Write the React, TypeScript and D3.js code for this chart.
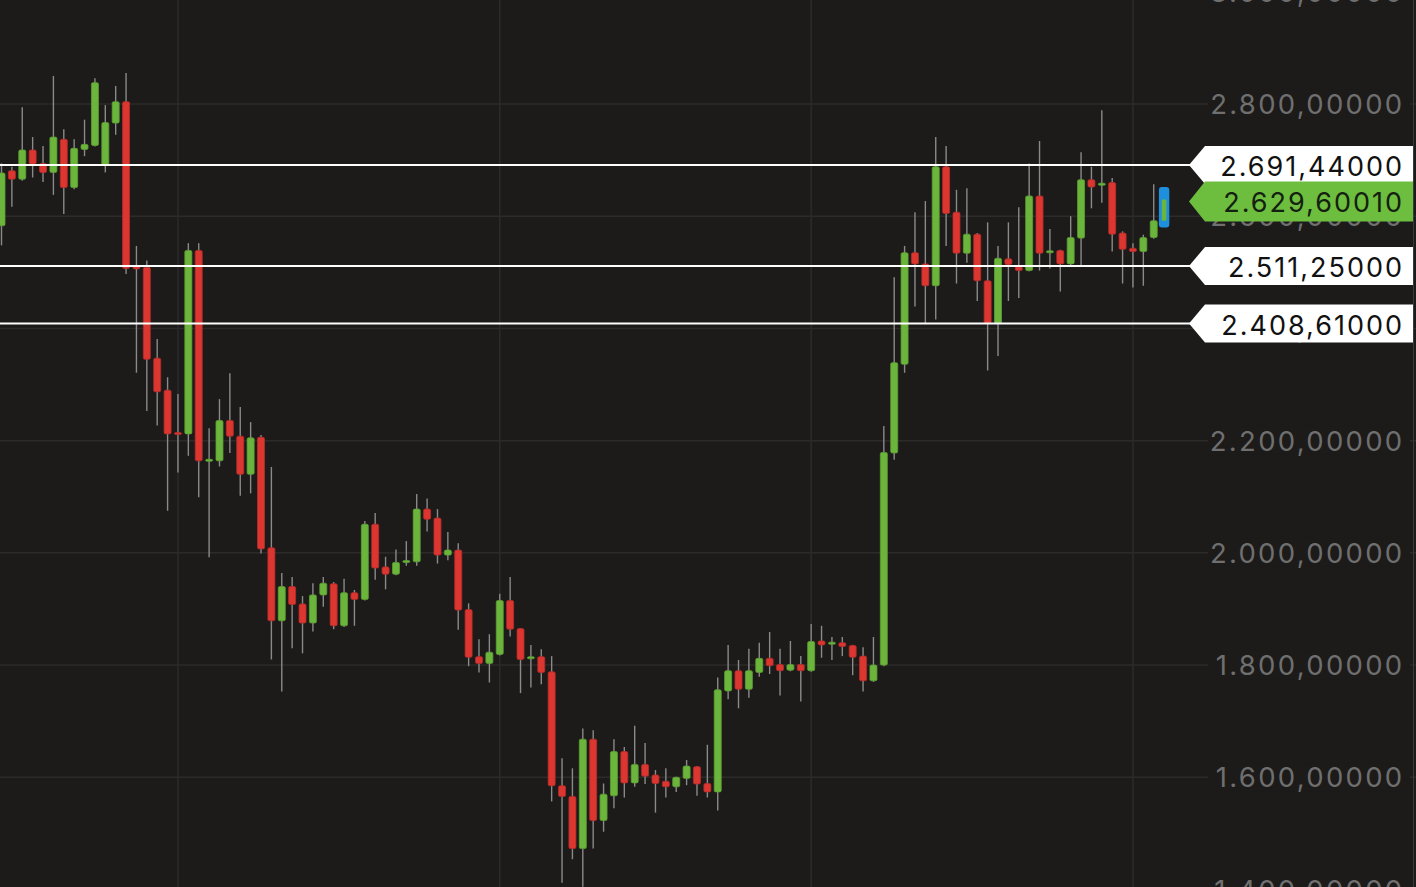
import React, { useEffect } from "react";
import * as d3 from "d3";

const WIDTH = 1416;
const HEIGHT = 887;

// daily candles
const opens = [
  2583, 2681, 2666, 2718, 2694, 2678, 2737, 2651, 2719, 2726, 2691, 2766, 2804, 2510, 2509, 2347, 2290, 2214, 2212, 2539,
  2164, 2164, 2236, 2208, 2140, 2206, 2009, 1879, 1940, 1909, 1875, 1925, 1945, 1870, 1929, 1917, 2051, 1975, 1962, 1983,
  1984, 2078, 2062, 1996, 2005, 1899, 1815, 1803, 1819, 1915, 1865, 1812, 1815, 1788, 1585, 1566, 1473, 1668, 1523, 1567,
  1646, 1590, 1623, 1604, 1593, 1583, 1598, 1619, 1589, 1574, 1754, 1790, 1757, 1787, 1812, 1801, 1791, 1801, 1790, 1843,
  1838, 1840, 1835, 1816, 1772, 1800, 2178, 2336, 2535, 2515, 2476, 2688, 2607, 2534, 2568, 2485, 2409, 2524, 2510, 2503,
  2636, 2535, 2539, 2515, 2561, 2665, 2656, 2660, 2570, 2543, 2537, 2562, 2592,
];
const highs = [
  2694, 2688, 2794, 2741, 2725, 2850, 2755, 2737, 2772, 2846, 2798, 2832, 2855, 2547, 2521, 2381, 2313, 2283, 2552, 2552,
  2222, 2274, 2320, 2260, 2233, 2210, 2153, 1964, 1957, 1923, 1946, 1957, 1948, 1954, 1934, 2057, 2071, 1993, 2006, 2021,
  2105, 2097, 2078, 2037, 2017, 1910, 1846, 1855, 1927, 1957, 1866, 1836, 1828, 1816, 1634, 1616, 1687, 1684, 1589, 1668,
  1654, 1692, 1661, 1613, 1616, 1601, 1631, 1620, 1658, 1778, 1836, 1809, 1829, 1840, 1859, 1829, 1843, 1816, 1873, 1870,
  1850, 1850, 1836, 1832, 1850, 2226, 2491, 2547, 2607, 2627, 2741, 2725, 2647, 2650, 2570, 2589, 2547, 2589, 2616, 2694,
  2734, 2577, 2540, 2600, 2714, 2688, 2789, 2668, 2573, 2552, 2567, 2657, 2652,
];
const lows = [
  2548, 2617, 2663, 2669, 2661, 2638, 2604, 2648, 2707, 2724, 2678, 2745, 2497, 2321, 2253, 2227, 2075, 2143, 2173, 2099,
  1992, 2154, 2178, 2102, 2106, 1999, 1810, 1753, 1830, 1821, 1860, 1904, 1864, 1868, 1870, 1915, 1952, 1935, 1960, 1977,
  1977, 2038, 1981, 1987, 1863, 1798, 1787, 1769, 1817, 1851, 1750, 1760, 1766, 1557, 1412, 1454, 1405, 1473, 1503, 1545,
  1564, 1583, 1588, 1537, 1564, 1574, 1586, 1567, 1564, 1541, 1739, 1723, 1742, 1779, 1784, 1746, 1789, 1735, 1788, 1813,
  1809, 1816, 1782, 1753, 1770, 1798, 2166, 2321, 2439, 2408, 2416, 2547, 2480, 2517, 2449, 2325, 2351, 2449, 2454, 2502,
  2503, 2507, 2466, 2513, 2513, 2614, 2624, 2537, 2480, 2473, 2476, 2560, 2580,
];
const closes = [
  2677, 2666, 2718, 2693, 2678, 2741, 2651, 2721, 2728, 2838, 2767, 2804, 2507, 2506, 2345, 2287, 2212, 2211, 2539, 2164,
  2166, 2236, 2208, 2140, 2205, 2007, 1879, 1940, 1908, 1875, 1925, 1946, 1870, 1929, 1917, 2051, 1973, 1962, 1983, 1986,
  2078, 2060, 1996, 2005, 1898, 1814, 1803, 1823, 1915, 1864, 1810, 1814, 1787, 1585, 1566, 1473, 1668, 1523, 1570, 1646,
  1590, 1623, 1602, 1589, 1583, 1600, 1620, 1588, 1574, 1756, 1790, 1757, 1790, 1812, 1799, 1790, 1801, 1790, 1842, 1836,
  1840, 1833, 1814, 1772, 1800, 2179, 2339, 2535, 2515, 2476, 2688, 2605, 2534, 2568, 2485, 2409, 2525, 2514, 2503, 2636,
  2534, 2538, 2515, 2562, 2665, 2652, 2658, 2568, 2541, 2537, 2562, 2592, 2629.6001,
];

// candle index where a new month starts
const monthStarts = [17, 48, 78, 109];
const priceTicks = [1400, 1600, 1800, 2000, 2200, 2400, 2600, 2800, 3000];
const levels = [2691.44, 2511.25, 2408.61];
const lastPrice = 2629.6001;

const BG = "#1c1b1a";
const GRID = "#2c2b2a";
const GREEN = "#6cb53c";
const RED = "#dc3631";
const WICK = "#8a8a8a";
const FONT = "Inter, 'Open Sans', sans-serif";

const locale = d3.formatLocale({ decimal: ",", thousands: ".", grouping: [3], currency: ["", ""] });
const fmt = locale.format(",.5f");

export default function App() {
  useEffect(() => {
    document.body.style.margin = "0";
    document.body.style.background = BG;
  }, []);

  const y = d3.scaleLinear().domain([1404.5, 2985.3]).range([HEIGHT, 0]);
  const x = d3.scaleLinear().domain([0, opens.length - 1]).range([1.5, 1164.1]);
  const bodyW = 7;
  const last = opens.length - 1;

  const candles = opens.map((o, i) => {
    const c = closes[i];
    const up = c >= o;
    const cx = x(i);
    const top = y(Math.max(o, c));
    const bot = y(Math.min(o, c));
    const h = Math.max(2, bot - top);
    if (i === last) {
      // highlighted (selected) candle
      return (
        <g key={i}>
          <rect x={cx - 5.2} y={y(highs[i])} width={10.4} height={y(lows[i]) - y(highs[i])} rx={3} fill="#1e8fdc" />
          <rect x={cx - 2.3} y={top} width={4.6} height={h} rx={1} fill={GREEN} />
        </g>
      );
    }
    return (
      <g key={i}>
        <line x1={cx} x2={cx} y1={y(highs[i])} y2={y(lows[i])} stroke={WICK} strokeWidth={1.4} />
        <rect
          x={cx - bodyW / 2}
          y={top - (h - (bot - top)) / 2}
          width={bodyW}
          height={h}
          rx={1.5}
          fill={up ? GREEN : RED}
          stroke={up ? "#5c9e32" : "#b62b28"}
          strokeWidth={0.8}
        />
      </g>
    );
  });

  const tagPath = (cy: number, h: number) => {
    const tip = 1189;
    const base = 1205;
    const right = 1413;
    return `M${tip},${cy} L${base},${cy - h / 2} L${right},${cy - h / 2} L${right},${cy + h / 2} L${base},${cy + h / 2} Z`;
  };

  return (
    <svg width={WIDTH} height={HEIGHT} style={{ display: "block", background: BG }}>
      <rect width={WIDTH} height={HEIGHT} fill={BG} />
      {/* grid */}
      {priceTicks.map((t) => (
        <line key={t} x1={0} x2={WIDTH} y1={y(t)} y2={y(t)} stroke={GRID} strokeWidth={1.5} />
      ))}
      {monthStarts.map((m) => (
        <line key={m} x1={x(m)} x2={x(m)} y1={0} y2={HEIGHT} stroke={GRID} strokeWidth={1.5} />
      ))}
      {/* right axis */}
      <line x1={1413.5} x2={1413.5} y1={0} y2={HEIGHT} stroke="#3a3a3a" strokeWidth={1} />
      {priceTicks.map((t) => (
        <g key={t}>
          <rect x={1208} y={y(t) - 14} width={202} height={28} fill={BG} />
          <text
            x={1404.5}
            y={y(t) + 10}
            textAnchor="end"
            fontFamily={FONT}
            fontSize={27.5}
            letterSpacing={2.3}
            fill="#6f6f6f"
          >
            {fmt(t)}
          </text>
        </g>
      ))}
      {candles}
      {/* price levels */}
      {levels.map((l) => (
        <g key={l}>
          <line x1={0} x2={1192} y1={y(l)} y2={y(l)} stroke="#ffffff" strokeWidth={2} />
          <path d={tagPath(y(l), 38)} fill="#ffffff" />
          <text x={1404} y={y(l) + 11} textAnchor="end" fontFamily={FONT} fontSize={27} letterSpacing={2} fill="#111111">
            {fmt(l)}
          </text>
        </g>
      ))}
      <path d={tagPath(y(lastPrice) + 2, 40)} fill="#6dbd3e" />
      <text x={1404} y={y(lastPrice) + 12} textAnchor="end" fontFamily={FONT} fontSize={27} letterSpacing={2} fill="#142010">
        {fmt(lastPrice)}
      </text>
    </svg>
  );
}
